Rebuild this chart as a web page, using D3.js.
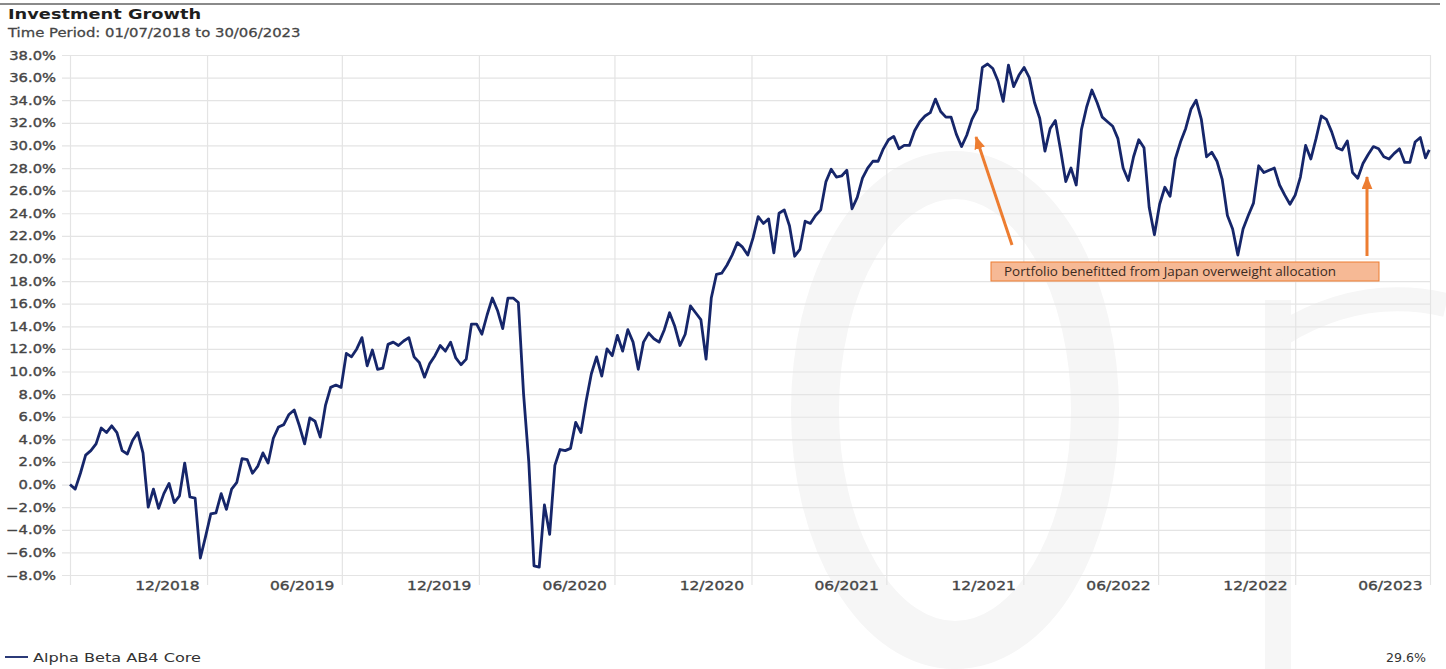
<!DOCTYPE html>
<html>
<head>
<meta charset="utf-8">
<script src="https://cdn.jsdelivr.net/npm/d3@7"></script>
<style>
  html, body { margin: 0; padding: 0; background: #ffffff; }
  svg { display: block; }
</style>
</head>
<body>
<svg id="chart" width="1446" height="669"></svg>
<script>
// ---- Data -------------------------------------------------------------
const periodStart = "2018-07-01";
const periodEnd = "2023-06-30";
const seriesName = "Alpha Beta AB4 Core";

// Cumulative growth (%), one reading per week from 01/07/2018
const weeklyGrowth = [
  0.0, -0.4, 1.0, 2.6, 3.0, 3.6, 5.0, 4.6, 5.2, 4.6,
  3.0, 2.7, 3.9, 4.6, 2.8, -2.0, -0.4, -2.1, -0.8, 0.1,
  -1.6, -1.0, 1.9, -1.1, -1.2, -6.5, -4.6, -2.6, -2.5, -0.8,
  -2.2, -0.4, 0.2, 2.3, 2.2, 1.0, 1.6, 2.8, 1.9, 4.1,
  5.1, 5.3, 6.2, 6.6, 5.2, 3.6, 5.9, 5.6, 4.2, 7.0,
  8.6, 8.8, 8.6, 11.6, 11.3, 12.0, 13.0, 10.5, 11.9, 10.2,
  10.3, 12.4, 12.6, 12.3, 12.7, 13.0, 11.3, 10.8, 9.5, 10.7,
  11.4, 12.3, 11.8, 12.6, 11.2, 10.6, 11.1, 14.2, 14.2, 13.3,
  15.0, 16.5, 15.4, 13.8, 16.5, 16.5, 16.1, 8.0, 2.0, -7.2,
  -7.3, -1.8, -4.4, 1.7, 3.1, 3.0, 3.2, 5.5, 4.6, 7.4,
  9.8, 11.3, 9.6, 12.0, 11.4, 13.2, 11.8, 13.7, 12.6, 10.2,
  12.6, 13.4, 12.9, 12.6, 13.7, 15.2, 14.0, 12.3, 13.3, 15.8,
  15.2, 14.6, 11.1, 16.5, 18.6, 18.7, 19.4, 20.3, 21.4, 21.0,
  20.3, 21.8, 23.7, 23.1, 23.5, 20.5, 24.0, 24.3, 22.9, 20.2,
  20.8, 23.3, 23.1, 23.8, 24.3, 26.8, 27.9, 27.2, 27.3, 27.8,
  24.4, 25.4, 27.1, 28.0, 28.6, 28.6, 29.7, 30.5, 30.8, 29.7,
  30.0, 30.0, 31.3, 32.1, 32.6, 32.9, 34.1, 33.0, 32.5, 32.5,
  31.0, 29.9, 30.9, 32.3, 33.2, 36.9, 37.2, 36.8, 35.7, 33.9,
  37.1, 35.2, 36.2, 36.9, 36.0, 33.8, 32.4, 29.5, 31.5, 32.2,
  29.6, 26.8, 28.0, 26.5, 31.4, 33.4, 34.9, 33.8, 32.5, 32.1,
  31.7, 30.6, 28.0, 26.9, 29.0, 30.5, 29.8, 24.5, 22.1, 24.8,
  26.3, 25.5, 28.8, 30.3, 31.5, 33.2, 34.0, 32.3, 29.0, 29.4,
  28.6, 27.0, 23.8, 22.6, 20.3, 22.6, 23.8, 24.9, 28.2, 27.6,
  27.8, 28.0, 26.5, 25.6, 24.8, 25.6, 27.2, 30.0, 28.8, 30.6,
  32.6, 32.3, 31.2, 29.8, 29.6, 30.4, 27.6, 27.1, 28.4, 29.2,
  29.9, 29.7, 29.0, 28.8, 29.3, 29.7, 28.5, 28.5, 30.3, 30.7,
  28.9, 29.6
];

const yTickValues = [-8, -6, -4, -2, 0, 2, 4, 6, 8, 10, 12, 14, 16, 18,
                     20, 22, 24, 26, 28, 30, 32, 34, 36, 38];
const gridDates = ["2018-07-01", "2019-01-01", "2019-07-01", "2020-01-01",
                   "2020-07-01", "2021-01-01", "2021-07-01", "2022-01-01",
                   "2022-07-01", "2023-01-01", "2023-07-01"];
const xTickLabels = ["", "12/2018", "06/2019", "12/2019", "06/2020", "12/2020",
                     "06/2021", "12/2021", "06/2022", "12/2022", "06/2023"];
const annotationText = "Portfolio benefitted from Japan overweight allocation";

// ---- Setup ------------------------------------------------------------
const parse = d3.utcParse("%Y-%m-%d");
const t0 = parse(periodStart);
const t1 = parse(periodEnd);
const points = weeklyGrowth.map((v, i) => {
  const d = d3.utcDay.offset(t0, 7 * i);
  return { date: d > t1 ? t1 : d, value: v };
});

const svg = d3.select("#chart");
const plot = { left: 70, right: 1430, top: 55, bottom: 575 };
const x = d3.scaleUtc().domain([t0, parse("2023-07-01")]).range([plot.left, plot.right]);
const y = d3.scaleLinear().domain([-8, 38]).range([plot.bottom, plot.top]);
const stretch = 1.27;
const font = "'DejaVu Sans', Verdana, sans-serif";
const labelGrey = "#454545";

// Faint logo watermark behind the grid
const wmColour = "#f6f6f6";
const wm = svg.append("g").attr("fill", "none").attr("stroke", wmColour);
wm.append("ellipse").attr("cx", 955).attr("cy", 410).attr("rx", 140).attr("ry", 235)
  .attr("stroke-width", 48);
wm.append("rect").attr("x", 1265).attr("y", 300).attr("width", 26).attr("height", 369)
  .attr("fill", wmColour).attr("stroke", "none");
wm.append("path").attr("d", "M1280,335 Q1360,285 1446,305").attr("stroke-width", 24);

// Top rule
svg.append("line").attr("x1", 0).attr("x2", 1440).attr("y1", 4).attr("y2", 4)
  .attr("stroke", "#8a8a8a").attr("stroke-width", 2);

// Title and subtitle
svg.append("text").attr("transform", `translate(8,19) scale(${stretch},1)`)
  .attr("font-family", font).attr("font-weight", "bold").attr("font-size", 14)
  .attr("fill", "#1e1e1e").text("Investment Growth");
svg.append("text").attr("transform", `translate(8,37) scale(${stretch},1)`)
  .attr("font-family", font).attr("font-size", 11.7)
  .attr("fill", labelGrey).attr("stroke", labelGrey).attr("stroke-width", 0.25)
  .text("Time Period: 01/07/2018 to 30/06/2023");

// Horizontal grid + y axis labels
const yAxis = d3.axisLeft(y).tickValues(yTickValues)
  .tickSize(-(plot.right - 62)).tickFormat(d => d3.format(".1f")(d) + "%");
const gy = svg.append("g").attr("transform", "translate(62,0)").call(yAxis);
gy.select(".domain").remove();
gy.selectAll(".tick line").attr("stroke", "#e4e4e4").attr("stroke-width", 1.2);
gy.selectAll(".tick text")
  .attr("x", 0).attr("dy", null).attr("y", 0)
  .attr("transform", `translate(-6,4) scale(${stretch},1)`)
  .attr("font-family", font).attr("font-size", 11.6).attr("fill", labelGrey)
  .attr("stroke", labelGrey).attr("stroke-width", 0.35)
  .attr("text-anchor", "end");

// Vertical grid + x labels
const gridX = gridDates.map(parse);
const xAxis = d3.axisBottom(x).tickValues(gridX)
  .tickSize(-(plot.bottom - plot.top) - 10).tickFormat((d, i) => xTickLabels[i]);
const gx = svg.append("g").attr("transform", `translate(0,${plot.bottom + 10})`).call(xAxis);
gx.select(".domain").remove();
gx.selectAll(".tick line").attr("stroke", "#e4e4e4").attr("stroke-width", 1.2);
gx.selectAll(".tick text")
  .attr("x", 0).attr("y", 0).attr("dy", null)
  .attr("transform", `translate(-8,5) scale(${stretch},1)`)
  .attr("font-family", font).attr("font-size", 12.2).attr("fill", labelGrey)
  .attr("stroke", labelGrey).attr("stroke-width", 0.35)
  .attr("text-anchor", "end");

// Growth line
const line = d3.line().x(d => x(d.date)).y(d => y(d.value));
svg.append("path").datum(points).attr("d", line)
  .attr("fill", "none").attr("stroke", "#16266a").attr("stroke-width", 2.8)
  .attr("stroke-linejoin", "round");

// Annotation: arrows and call-out box
const orange = "#ed7d31";
const defs = svg.append("defs");
defs.append("marker").attr("id", "arrowHead").attr("markerUnits", "userSpaceOnUse")
  .attr("viewBox", "0 0 12 10").attr("refX", 11).attr("refY", 5)
  .attr("markerWidth", 13).attr("markerHeight", 11).attr("orient", "auto")
  .append("path").attr("d", "M0,0 L12,5 L0,10 Z").attr("fill", orange);

const arrows = [
  { from: [1012, 245], to: [976, 137] },
  { from: [1367, 256], to: [1367, 177] }
];
svg.selectAll("line.arrow").data(arrows).join("line").attr("class", "arrow")
  .attr("x1", d => d.from[0]).attr("y1", d => d.from[1])
  .attr("x2", d => d.to[0]).attr("y2", d => d.to[1])
  .attr("stroke", orange).attr("stroke-width", 3)
  .attr("marker-end", "url(#arrowHead)");

svg.append("rect").attr("x", 991).attr("y", 262).attr("width", 388).attr("height", 19)
  .attr("fill", "#f6b995").attr("stroke", orange).attr("stroke-width", 1);
svg.append("text").attr("x", 1004).attr("y", 276)
  .attr("font-family", "'Open Sans', 'Liberation Sans', sans-serif").attr("font-size", 12.5)
  .attr("fill", "#3b2b22").attr("textLength", 332).attr("lengthAdjust", "spacingAndGlyphs")
  .text(annotationText);

// Legend
svg.append("line").attr("x1", 5).attr("x2", 28).attr("y1", 657).attr("y2", 657)
  .attr("stroke", "#2b3a78").attr("stroke-width", 2);
svg.append("text").attr("x", 33).attr("y", 662)
  .attr("font-family", font).attr("font-size", 12.3).attr("fill", "#333")
  .attr("textLength", 168).attr("lengthAdjust", "spacingAndGlyphs").text(seriesName);
svg.append("text").attr("x", 1426).attr("y", 662).attr("text-anchor", "end")
  .attr("font-family", font).attr("font-size", 12).attr("fill", "#333")
  .attr("textLength", 40).attr("lengthAdjust", "spacingAndGlyphs")
  .text(d3.format(".1f")(weeklyGrowth[weeklyGrowth.length - 1]) + "%");
</script>
</body>
</html>
